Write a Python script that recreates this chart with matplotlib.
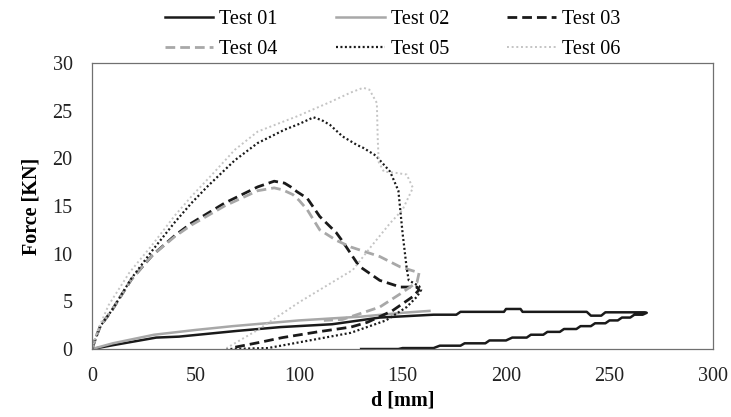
import matplotlib
matplotlib.use("Agg")
import matplotlib.pyplot as plt

# ----------------------------
# Data: displacement d [mm], force [KN]
# ----------------------------
d_01 = [0, 10, 31, 42, 70, 91, 116, 139, 165, 176, 178, 199, 200, 207, 208, 239, 241, 246, 248, 267, 268,
        266, 262, 260, 256, 254, 250, 248, 243, 241, 236, 234, 228, 226, 220, 218, 212, 210, 203, 200,
        192, 190, 180, 178, 168, 165, 150, 148, 130]
f_01 = [0, 0.4, 1.2, 1.3, 1.9, 2.3, 2.6, 3.3, 3.6, 3.6, 3.9, 3.9, 4.2, 4.2, 3.9, 3.9, 3.5, 3.5, 3.85, 3.85, 3.8,
        3.6, 3.6, 3.3, 3.3, 3.0, 3.0, 2.7, 2.7, 2.4, 2.4, 2.1, 2.1, 1.8, 1.8, 1.5, 1.5, 1.2, 1.2, 0.9,
        0.9, 0.6, 0.6, 0.35, 0.35, 0.1, 0.1, 0, 0]

d_02 = [0, 10, 30, 50, 68, 100, 130, 150, 163]
f_02 = [0, 0.6, 1.5, 2.0, 2.4, 3.0, 3.4, 3.8, 4.0]

d_03 = [0, 2, 4, 9.7, 19, 29, 40, 48, 64, 80, 88, 93, 96, 99, 104, 110, 118, 121, 129, 139, 149, 157, 158,
        155, 145, 133, 125, 109, 92, 81, 67]
f_03 = [0, 1.3, 2.4, 4.1, 7.3, 9.8, 11.9, 13.2, 15.3, 17.0, 17.6, 17.4, 17.0, 16.5, 15.8, 13.9, 12.2, 11.3,
        8.7, 7.2, 6.5, 6.5, 6.2, 5.5, 4.0, 2.8, 2.3, 1.8, 1.2, 0.7, 0.1]

d_04 = [0, 2, 4, 9.7, 19, 29, 40, 48, 64, 80, 88, 92, 97, 100, 104, 110, 118, 125, 139, 149, 158,
        157, 149, 139, 121, 112]
f_04 = [0, 1.3, 2.4, 4.1, 7.3, 9.8, 11.8, 13.0, 15.0, 16.6, 16.9, 16.7, 16.2, 15.6, 14.6, 12.5, 11.4, 10.7,
        9.7, 8.6, 8.0, 7.0, 5.8, 4.4, 3.1, 3.0]

d_05 = [0, 2, 4, 9.7, 19, 29, 40, 48, 56, 69, 80, 93, 100, 107, 111, 115, 121, 128, 131, 137, 144, 148, 150,
        152, 153, 158, 159, 157, 152, 142, 125, 100, 85, 65]
f_05 = [0, 1.3, 2.4, 4.1, 7.4, 10.3, 13.3, 15.3, 17.1, 19.8, 21.6, 23.0, 23.6, 24.3, 24.0, 23.5, 22.3, 21.4,
        21.1, 20.3, 18.6, 16.6, 12.2, 8.5, 7.2, 6.6, 6.2, 5.5, 4.4, 3.0, 1.7, 0.7, 0.1, 0]

d_06 = [0, 2, 4, 8, 18, 29, 40, 48, 58, 69, 80, 93, 99, 115, 125, 131, 134, 137.6, 138, 138.5, 141, 146, 152,
        155, 150, 144, 135, 126, 100, 80, 65]
f_06 = [0, 1.5, 2.6, 4.6, 8.0, 10.9, 14.0, 16.0, 18.3, 20.9, 22.8, 23.9, 24.4, 25.9, 26.9, 27.4, 27.2, 25.8,
        22.2, 19.6, 18.6, 18.5, 18.3, 16.9, 14.6, 13.2, 10.8, 8.3, 4.9, 2.0, 0.1]

labels = ["Test 01", "Test 02", "Test 03", "Test 04", "Test 05", "Test 06"]

# ----------------------------
# Plot
# ----------------------------
plt.rcParams["font.family"] = ["Liberation Serif", "DejaVu Serif"]

fig = plt.figure(figsize=(7.31, 4.17), dpi=100)
ax = fig.add_axes([0.1259, 0.163, 0.8495, 0.686])

black = "#1a1a1a"
gray = "#a8a8a8"
light = "#c4c4c4"

h1, = ax.plot(d_01, f_01, color=black, lw=1.8, label=labels[0])
h2, = ax.plot(d_02, f_02, color=gray, lw=1.8, label=labels[1])
h3, = ax.plot(d_03, f_03, color=black, lw=2.0, dashes=(3.5, 1.8), label=labels[2])
h4, = ax.plot(d_04, f_04, color=gray, lw=2.0, dashes=(3.5, 1.8), label=labels[3])
h5, = ax.plot(d_05, f_05, color=black, lw=1.6, dashes=(0.9, 1.1), label=labels[4])
h6, = ax.plot(d_06, f_06, color=light, lw=1.4, dashes=(1.0, 1.4), label=labels[5])

ax.set_xlim(0, 300)
ax.set_ylim(0, 30)
ax.set_xticks([0, 50, 100, 150, 200, 250, 300])
ax.set_yticks([0, 5, 10, 15, 20, 25, 30])
ax.tick_params(axis="both", length=0, labelsize=14.5, colors="#222222")
ax.tick_params(axis="x", pad=13)
ax.tick_params(axis="y", pad=14)

for side in ax.spines.values():
    side.set_color("#707070")
    side.set_linewidth(0.9)

ax.set_xlabel("d [mm]", fontsize=14.5, fontweight="bold", labelpad=3)
ax.set_ylabel("Force [KN]", fontsize=14.5, fontweight="bold", labelpad=8)

# legend fills column by column, so order handles to read row-wise
order = [h1, h4, h2, h5, h3, h6]
fig.legend(order, [h.get_label() for h in order], loc="center", bbox_to_anchor=(0.537, 0.918),
           ncol=3, frameon=False, fontsize=14.5, handlelength=2.4, handletextpad=0.3,
           columnspacing=2.9, labelspacing=0.55)

fig.savefig("out.png", dpi=100)
plt.close(fig)
